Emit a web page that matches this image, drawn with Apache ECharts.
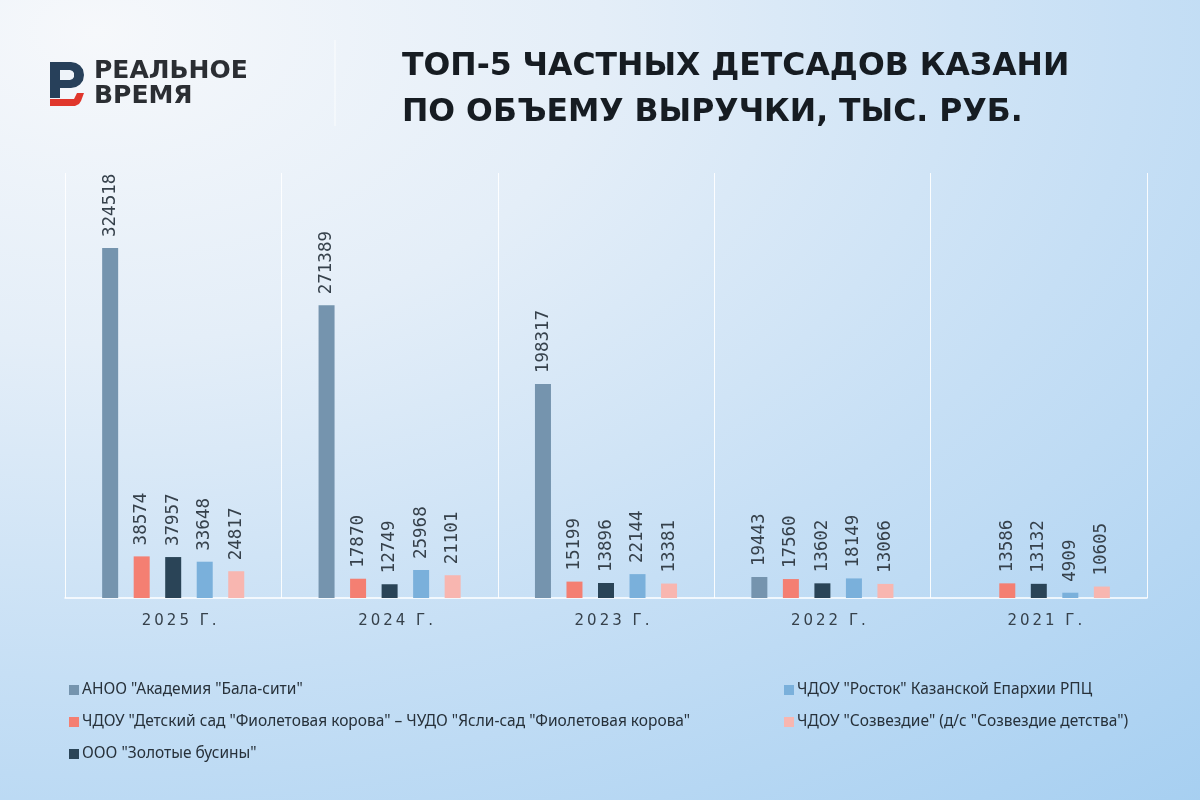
<!DOCTYPE html>
<html>
<head>
<meta charset="utf-8">
<script src="https://cdn.jsdelivr.net/npm/echarts@6/dist/echarts.min.js"></script>
<style>
  html, body { margin: 0; padding: 0; }
  #chart {
    width: 1200px; height: 800px;
    background: radial-gradient(ellipse 140% 130% at 8% 4%, #f6f8fb 0%, #e4eef8 30%, #c6dff5 62%, #a6cff1 100%);
  }
</style>
</head>
<body>
<div id="chart"></div>
<script>
// выручка, тыс. руб.
const years = ["2025 Г.", "2024 Г.", "2023 Г.", "2022 Г.", "2021 Г."];
const names = [
  'АНОО "Академия "Бала-сити"',
  'ЧДОУ "Детский сад "Фиолетовая корова" – ЧУДО "Ясли-сад "Фиолетовая корова"',
  'ООО "Золотые бусины"',
  'ЧДОУ "Росток" Казанской Епархии РПЦ',
  'ЧДОУ "Созвездие" (д/с "Созвездие детства")',
];
const balaCity = [324518, 271389, 198317, 19443, null];
const fioletKorova = [38574, 17870, 15199, 17560, 13586];
const zolotyeBusiny = [37957, 12749, 13896, 13602, 13132];
const rostok = [33648, 25968, 22144, 18149, 4909];
const sozvezdie = [24817, 21101, 13381, 13066, 10605];
const colors = ["#7594ae", "#f47f72", "#2a4457", "#7ab0db", "#f8b6b0"];

const chart = echarts.init(document.getElementById("chart"), null, { renderer: "canvas" });

const seriesData = [balaCity, fioletKorova, zolotyeBusiny, rostok, sozvezdie];

chart.setOption({
  backgroundColor: "transparent",
  animation: false,
  title: {
    text: "ТОП-5 ЧАСТНЫХ ДЕТСАДОВ КАЗАНИ\nПО ОБЪЕМУ ВЫРУЧКИ, ТЫС. РУБ.",
    left: 397, top: 39,
    textStyle: {
      fontFamily: "DejaVu Sans", fontWeight: "bold", fontSize: 31.5,
      lineHeight: 46, color: "#161c22",
    },
  },
  graphic: [
    // логотип
    {
      type: "polygon",
      shape: { points: [[50, 62], [71, 62], [76, 63], [80, 65.5], [83, 69.5], [84, 75], [83, 80.5], [80, 84.5], [76, 87], [71, 88], [60, 88], [60, 98], [50, 98]] },
      style: { fill: "#27405a" },
    },
    {
      type: "polygon",
      shape: { points: [[60, 70], [70, 70], [72.5, 71], [74, 73], [74, 77], [72.5, 79], [70, 80], [60, 80]] },
      style: { fill: "#eef3f9" },
    },
    {
      type: "polygon",
      shape: { points: [[50, 99], [74, 99], [77, 93], [84, 93], [81, 101], [79, 104], [75, 106], [50, 106]] },
      style: { fill: "#e0362c" },
    },
    {
      type: "text", left: 94, top: 59,
      style: { text: "РЕАЛЬНОЕ\nВРЕМЯ", fontFamily: "DejaVu Sans", fontWeight: "bold", fontSize: 25, lineHeight: 25, fill: "#2b2e33" },
    },
    {
      type: "line", shape: { x1: 335, y1: 40, x2: 335, y2: 126 },
      style: { stroke: "rgba(255,255,255,0.8)", lineWidth: 1 },
    },
  ],
  legend: [
    {
      data: names.slice(0, 3), orient: "vertical", left: 64, top: 677,
      itemWidth: 10, itemHeight: 10, itemGap: 16, icon: "rect",
      textStyle: { fontFamily: "Noto Sans", fontSize: 15.5, color: "#27313a", padding: [0, 0, 0, -2] },
    },
    {
      data: names.slice(3), orient: "vertical", left: 779, top: 677,
      itemWidth: 10, itemHeight: 10, itemGap: 16, icon: "rect",
      textStyle: { fontFamily: "Noto Sans", fontSize: 15.5, color: "#27313a", padding: [0, 0, 0, -2] },
    },
  ],
  grid: { left: 65, right: 53, top: 173, bottom: 202 },
  xAxis: {
    type: "category", data: years,
    axisLine: { lineStyle: { color: "#ffffff", width: 1.5 } },
    axisTick: { show: false },
    splitLine: { show: true, lineStyle: { color: "rgba(255,255,255,0.9)", width: 1 } },
    axisLabel: {
      margin: 16, color: "#36414b", fontFamily: "DejaVu Sans", fontSize: 15,
      padding: [0, 0, 0, 12],
      formatter: (v) => v.split("").join("\u2009"),
    },
  },
  yAxis: { type: "value", min: 0, max: 394000, show: false, splitLine: { show: false } },
  series: seriesData.map((d, i) => ({
    name: names[i], type: "bar", data: d,
    barWidth: 16, barGap: "97%",
    itemStyle: { color: colors[i] },
    label: {
      show: true, position: "top", rotate: 90, distance: 11,
      align: "left", verticalAlign: "middle",
      fontFamily: "DejaVu Sans Mono", fontSize: 17.5, color: "#36414b",
    },
  })),
});
</script>
</body>
</html>
